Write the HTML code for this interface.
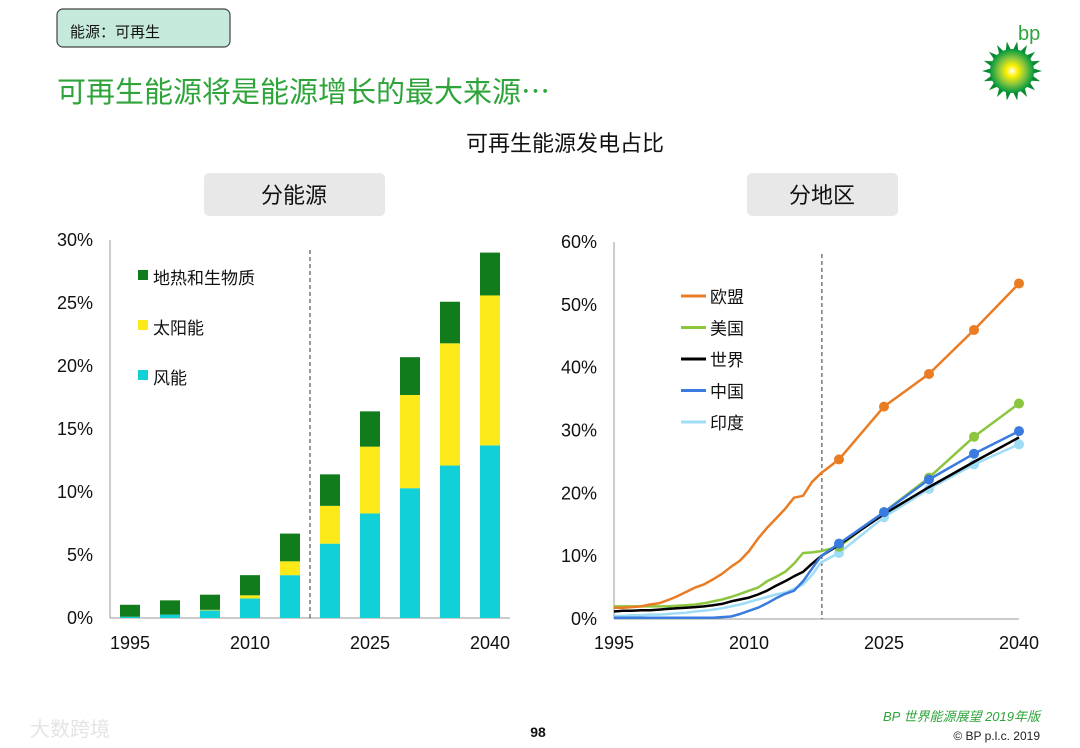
<!DOCTYPE html>
<html><head><meta charset="utf-8">
<style>
html,body{margin:0;padding:0;background:#fff;}
svg{display:block;font-family:"Liberation Sans","Noto Sans CJK SC",sans-serif;}
</style></head>
<body>
<svg id="page" width="1080" height="748" viewBox="0 0 1080 748">
  <defs>
    <radialGradient id="sun" cx="50%" cy="50%" r="50%">
      <stop offset="0" stop-color="#ffffff"/>
      <stop offset="0.25" stop-color="#fff200"/>
      <stop offset="0.6" stop-color="#8cc63f"/>
      <stop offset="1" stop-color="#009a3e"/>
    </radialGradient>
  </defs>
  <g>
    <rect x="57" y="9" width="173" height="38" rx="6" fill="#c5eadc" stroke="#444" stroke-width="1.2"/>
    <text x="70" y="37" font-size="15" fill="#111">能源：可再生</text>
  </g>
  <text x="57" y="102" font-size="29" fill="#2ea43a" style="font-family:'Noto Sans CJK SC',sans-serif">可再生能源将是能源增长的最大来源…</text>
  <g>
    <text x="1018" y="40" font-size="20" fill="#2ea43a">bp</text>
    <g id="sunburst"></g>
  </g>
  <text x="565" y="151" font-size="22" text-anchor="middle" fill="#111">可再生能源发电占比</text>
  <g>
    <rect x="204" y="173" width="181" height="43" rx="5" fill="#e8e8e8"/>
    <text x="294" y="203" font-size="22" text-anchor="middle" fill="#111">分能源</text>
  </g>
  <g>
    <rect x="747" y="173" width="151" height="43" rx="5" fill="#e8e8e8"/>
    <text x="822" y="203" font-size="22" text-anchor="middle" fill="#111">分地区</text>
  </g>
  <g id="left"></g>
  <g id="right"></g>
  <text x="30" y="736" font-size="20" fill="#e4e4e4">大数跨境</text>
  <text x="538" y="737" font-size="14" font-weight="bold" text-anchor="middle" fill="#111">98</text>
  <text x="1040" y="721" font-size="13" font-style="italic" text-anchor="end" fill="#2ea43a">BP 世界能源展望 2019年版</text>
  <text x="1040" y="740" font-size="12" text-anchor="end" fill="#222">© BP p.l.c. 2019</text>
</svg>
<script>
// ---- Left chart data ----
const barYears = [1995,2000,2005,2010,2015,2020,2025,2030,2035,2040];
const wind  = [0.1,0.27,0.6,1.55,3.4,5.9,8.3,10.3,12.1,13.7];
const solar = [0.0,0.0,0.05,0.25,1.1,3.0,5.3,7.4,9.7,11.9];
const geoBio= [0.95,1.13,1.2,1.6,2.2,2.5,2.8,3.0,3.3,3.4];
const leftTicks = [0,5,10,15,20,25,30];
const leftXLabels = ["1995","2010","2025","2040"];

// ---- Right chart data ----
const histYears = [1995,1996,1997,1998,1999,2000,2001,2002,2003,2004,2005,2006,2007,2008,2009,2010,2011,2012,2013,2014,2015,2016,2017,2018];
const projYears = [2020,2025,2030,2035,2040];
const euHist = [1.8,1.8,1.9,2.0,2.3,2.5,3.0,3.6,4.3,5.0,5.5,6.3,7.2,8.3,9.3,10.8,12.8,14.5,16.0,17.5,19.3,19.6,21.8,23.2];
const euProj = [25.4,33.8,39.0,46.0,53.4];
const usHist = [2.0,2.0,2.0,2.0,2.0,2.0,2.0,2.1,2.2,2.3,2.5,2.8,3.1,3.5,4.0,4.5,5.0,6.0,6.7,7.5,8.8,10.5,10.6,10.8];
const usProj = [11.5,17.0,22.5,29.0,34.3];
const worldHist = [1.2,1.3,1.3,1.4,1.4,1.5,1.6,1.7,1.8,1.9,2.0,2.2,2.4,2.8,3.1,3.4,3.9,4.5,5.3,6.0,6.8,7.5,8.8,10.0];
const worldProj = [11.8,16.7,21.0,25.0,28.9];
const chinaHist = [0.2,0.2,0.2,0.2,0.2,0.2,0.2,0.2,0.2,0.2,0.2,0.2,0.3,0.4,0.8,1.3,1.8,2.5,3.3,4.0,4.5,6.0,8.0,10.0];
const chinaProj = [12.0,17.0,22.2,26.3,29.9];
const indiaHist = [0.5,0.5,0.6,0.6,0.7,0.7,0.8,0.9,1.0,1.2,1.3,1.5,1.7,2.0,2.3,2.7,3.1,3.5,3.9,4.2,4.8,5.5,7.0,9.0];
const indiaProj = [10.5,16.2,20.7,24.6,27.8];
const rightTicks = [0,10,20,30,40,50,60];
const rightXLabels = [1995,2010,2025,2040];

const NS = "http://www.w3.org/2000/svg";
function mk(tag, attrs, parent){const e=document.createElementNS(NS,tag);for(const k in attrs)e.setAttribute(k,attrs[k]);parent.appendChild(e);return e;}

// sunburst logo
(function(){
  const g=document.getElementById('sunburst');const cx=1012,cy=71;
  let pts=[];for(let i=0;i<36;i++){const r=i%2?19:30;const a=i*Math.PI/18;pts.push((cx+r*Math.cos(a)).toFixed(1)+','+(cy+r*Math.sin(a)).toFixed(1));}
  const p=mk('polygon',{points:pts.join(' '),fill:'#0b8a2e'},g);
  
  
  const c=mk('circle',{cx:cx,cy:cy,r:22,fill:'url(#sun)'},g);
  
  
})();

// ---- Left chart ----
(function(){
  const g=document.getElementById('left');
  const x0=110,x1=510,y0=618,yTop=240,maxV=30;
  const yS=v=>y0-(v/maxV)*(y0-yTop);
  const step=(x1-x0)/barYears.length;
  const xC=i=>x0+step*(i+0.5);
  leftTicks.forEach(t=>{
    const tx=mk('text',{x:93,y:yS(t)+6,'font-size':18,'text-anchor':'end',fill:'#111'},g);
    tx.textContent=t+'%';
    
    
  });
  const ax=mk('line',{x1:x0,y1:yTop,x2:x0,y2:y0,stroke:'#999','stroke-width':1},g);
  
  
  const bx=mk('line',{x1:x0,y1:y0,x2:x1,y2:y0,stroke:'#999','stroke-width':1},g);
  
  
  const colors=['#12d0d8','#fbe91a','#107c1c'];
  const names=['wind','solar','geo-bio'];
  barYears.forEach((yr,i)=>{
    let base=0;
    [wind[i],solar[i],geoBio[i]].forEach((v,k)=>{
      if(v<=0)return;
      const r=mk('rect',{x:xC(i)-10,y:yS(base+v),width:20,height:yS(base)-yS(base+v),fill:colors[k]},g);
      
      
      base+=v;
    });
  });
  leftXLabels.forEach(l=>{
    const i=barYears.indexOf(+l);
    const t=mk('text',{x:xC(i),y:649,'font-size':18,'text-anchor':'middle',fill:'#111'},g);
    t.textContent=l;
    
    
  });
  const dl=mk('line',{x1:(xC(4)+xC(5))/2,y1:250,x2:(xC(4)+xC(5))/2,y2:y0,stroke:'#333','stroke-dasharray':'4,3','stroke-width':1},g);
  
  
  const leg=[['地热和生物质',colors[2]],['太阳能',colors[1]],['风能',colors[0]]];
  leg.forEach((l,j)=>{
    const y=278+j*50;
    const s=mk('rect',{x:138,y:y-8,width:10,height:10,fill:l[1]},g);
    
    
    const t=mk('text',{x:153,y:y+6,'font-size':17,fill:'#111'},g);
    t.textContent=l[0];
    
    
  });
})();

// ---- Right chart ----
(function(){
  const g=document.getElementById('right');
  const x0=614,x1=1019,y0=619,yTop=242,maxV=60,yr0=1995,yr1=2040;
  const yS=v=>y0-(v/maxV)*(y0-yTop);
  const xS=y=>x0+(y-yr0)/(yr1-yr0)*(x1-x0);
  rightTicks.forEach(t=>{
    const tx=mk('text',{x:597,y:yS(t)+6,'font-size':18,'text-anchor':'end',fill:'#111'},g);
    tx.textContent=t+'%';
    
    
  });
  const ax=mk('line',{x1:x0,y1:yTop,x2:x0,y2:y0,stroke:'#999'},g);
  
  
  const bx=mk('line',{x1:x0,y1:y0,x2:x1,y2:y0,stroke:'#999'},g);
  
  
  rightXLabels.forEach(l=>{
    const t=mk('text',{x:xS(l),y:649,'font-size':18,'text-anchor':'middle',fill:'#111'},g);
    t.textContent=l;
    
    
  });
  const dl=mk('line',{x1:xS(2018.1),y1:254,x2:xS(2018.1),y2:y0,stroke:'#333','stroke-dasharray':'4,3'},g);
  
  
  const series=[
    ['india','印度','#9fdcf5',indiaHist,indiaProj],
    ['us','美国','#8cc63f',usHist,usProj],
    ['world','世界','#000000',worldHist,worldProj],
    ['china','中国','#3a7be0',chinaHist,chinaProj],
    ['eu','欧盟','#ea7c24',euHist,euProj]
  ];
  series.forEach(s=>{
    const ys=histYears.concat(projYears), vs=s[3].concat(s[4]);
    const d=ys.map((y,i)=>(i?'L':'M')+xS(y).toFixed(1)+','+yS(vs[i]).toFixed(1)).join(' ');
    const p=mk('path',{d:d,fill:'none',stroke:s[2],'stroke-width':2.5,'stroke-linejoin':'round'},g);
    
    
    if(s[0]!=='world'){
      projYears.forEach((y,i)=>{
        const c=mk('circle',{cx:xS(y),cy:yS(s[4][i]),r:5,fill:s[2]},g);
        
        
      });
    }
  });
  const legOrder=['eu','us','world','china','india'];
  legOrder.forEach((key,j)=>{
    const s=series.find(q=>q[0]===key);
    const y=296+j*31.5;
    const l=mk('line',{x1:681,y1:y,x2:706,y2:y,stroke:s[2],'stroke-width':3},g);
    
    
    const t=mk('text',{x:710,y:y+7,'font-size':17,fill:'#111'},g);
    t.textContent=s[1];
    
    
  });
})();
</script>
</body></html>
